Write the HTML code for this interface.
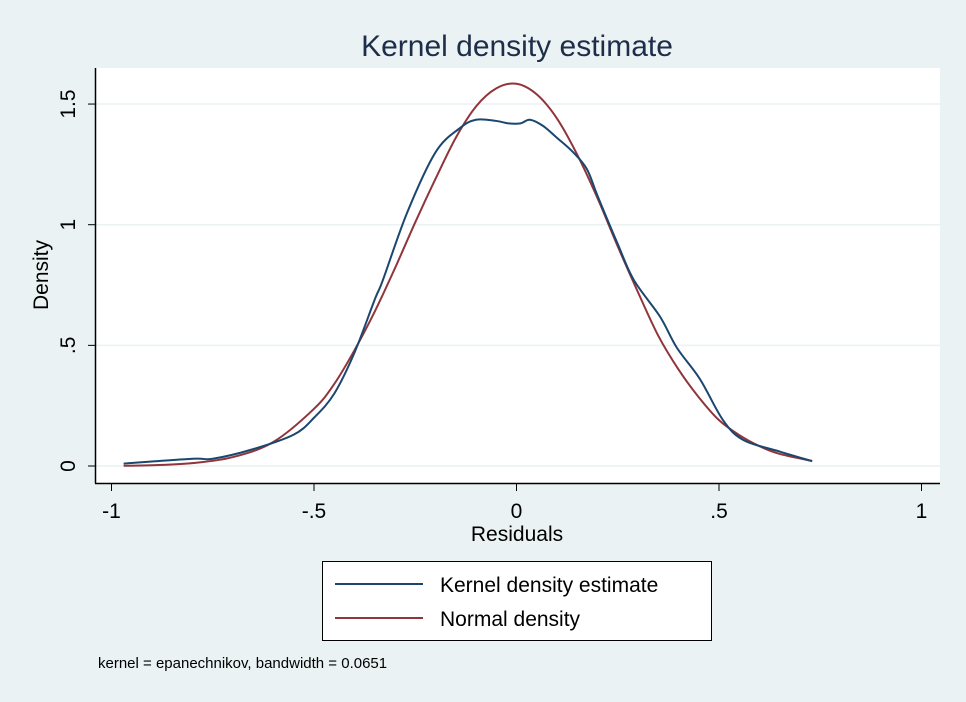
<!DOCTYPE html>
<html><head><meta charset="utf-8"><style>
body{margin:0;background:#eaf2f3;}
svg{display:block;font-family:"Liberation Sans",sans-serif;}
</style></head><body>
<svg width="966" height="702">
<rect width="966" height="702" fill="#eaf2f3"/>
<text x="517" y="56" font-size="30" text-anchor="middle" fill="#1e2d4a">Kernel density estimate</text>
<rect x="95" y="68" width="845" height="415" fill="#fff"/>
<g id="grid"></g>
<g id="axes"></g>
<g id="series"></g>
<text x="517" y="541" font-size="21" text-anchor="middle">Residuals</text>
<text transform="translate(48,275) rotate(-90)" font-size="21" text-anchor="middle">Density</text>
<g>
<rect x="322.5" y="561.5" width="389" height="79" fill="#fff" stroke="#000" stroke-width="1"/>
<line x1="335" y1="584" x2="423" y2="584" stroke="#1a476f" stroke-width="2"/>
<text x="440" y="592" font-size="21">Kernel density estimate</text>
<line x1="335" y1="618" x2="423" y2="618" stroke="#90353b" stroke-width="2"/>
<text x="440" y="626" font-size="21">Normal density</text>
</g>
<text x="98" y="668" font-size="15">kernel = epanechnikov, bandwidth = 0.0651</text>
</svg>
<script>
const xTicks=[-1,-0.5,0,0.5,1];
const xTickLabels=["-1","-.5","0",".5","1"];
const yTicks=[0,0.5,1,1.5];
const yTickLabels=["0",".5","1","1.5"];
const kernelX=[-0.97,-0.8,-0.75,-0.65,-0.55,-0.5,-0.45,-0.4,-0.35,-0.33,-0.27,-0.2,-0.14,-0.1,-0.05,-0.02,0.01,0.033,0.065,0.1,0.14,0.174,0.2,0.25,0.29,0.354,0.396,0.453,0.51,0.56,0.65,0.73];
const kernelY=[0.01,0.03,0.03,0.07,0.13,0.2,0.3,0.47,0.69,0.77,1.05,1.30,1.40,1.435,1.43,1.42,1.42,1.435,1.41,1.36,1.30,1.23,1.12,0.92,0.77,0.62,0.49,0.36,0.19,0.108,0.06,0.02];
const normalX=[-0.97,-0.9,-0.8,-0.7,-0.6,-0.5,-0.45,-0.4,-0.35,-0.3,-0.25,-0.2,-0.15,-0.1,-0.05,0,0.05,0.1,0.15,0.2,0.25,0.3,0.35,0.4,0.45,0.5,0.55,0.6,0.65,0.73];
const normalY=[0.001,0.003,0.012,0.037,0.10,0.237,0.34,0.48,0.64,0.82,1.01,1.19,1.36,1.49,1.565,1.584,1.54,1.44,1.29,1.11,0.91,0.72,0.54,0.40,0.285,0.19,0.128,0.082,0.05,0.021];
const NS="http://www.w3.org/2000/svg";
const sx=v=>516.5+v*405;
const sy=v=>466-v*241.3;
function mk(tag,attrs,parent){const e=document.createElementNS(NS,tag);for(const k in attrs)e.setAttribute(k,attrs[k]);parent.appendChild(e);return e;}
const grid=document.getElementById('grid'),axes=document.getElementById('axes'),series=document.getElementById('series');
yTicks.forEach((t,i)=>{
 const g=mk('line',{x1:95,x2:940,y1:sy(t),y2:sy(t),stroke:'#eaf2f3','stroke-width':1.5},grid);
 
 
 const tk=mk('line',{x1:88,x2:95,y1:sy(t),y2:sy(t),stroke:'#000'},axes);
 
 
 const tx=mk('text',{transform:`translate(75,${sy(t)}) rotate(-90)`,'font-size':21,'text-anchor':'middle'},axes);
 tx.textContent=yTickLabels[i];
 
 
});
xTicks.forEach((t,i)=>{
 const tk=mk('line',{x1:sx(t),x2:sx(t),y1:483,y2:491,stroke:'#000'},axes);
 
 
 const tx=mk('text',{x:sx(t),y:518,'font-size':21,'text-anchor':'middle'},axes);
 tx.textContent=xTickLabels[i];
 
 
});
const ya=mk('line',{x1:95.5,x2:95.5,y1:68,y2:483.5,stroke:'#000','stroke-width':1.5},axes);


const xa=mk('line',{x1:95,x2:940,y1:483.5,y2:483.5,stroke:'#000','stroke-width':1.5},axes);


function pathOf(X,Y){
 const p=X.map((x,i)=>[sx(x),sy(Y[i])]);
 let d=`M${p[0][0]},${p[0][1]}`;
 for(let i=0;i<p.length-1;i++){
  const p0=p[Math.max(0,i-1)],p1=p[i],p2=p[i+1],p3=p[Math.min(p.length-1,i+2)];
  d+=` C${p1[0]+(p2[0]-p0[0])/6},${p1[1]+(p2[1]-p0[1])/6} ${p2[0]-(p3[0]-p1[0])/6},${p2[1]-(p3[1]-p1[1])/6} ${p2[0]},${p2[1]}`;
 }
 return d;
}
const nl=mk('path',{d:pathOf(normalX,normalY),fill:'none',stroke:'#90353b','stroke-width':2},series);


const kl=mk('path',{d:pathOf(kernelX,kernelY),fill:'none',stroke:'#1a476f','stroke-width':2},series);


</script>
</body></html>
